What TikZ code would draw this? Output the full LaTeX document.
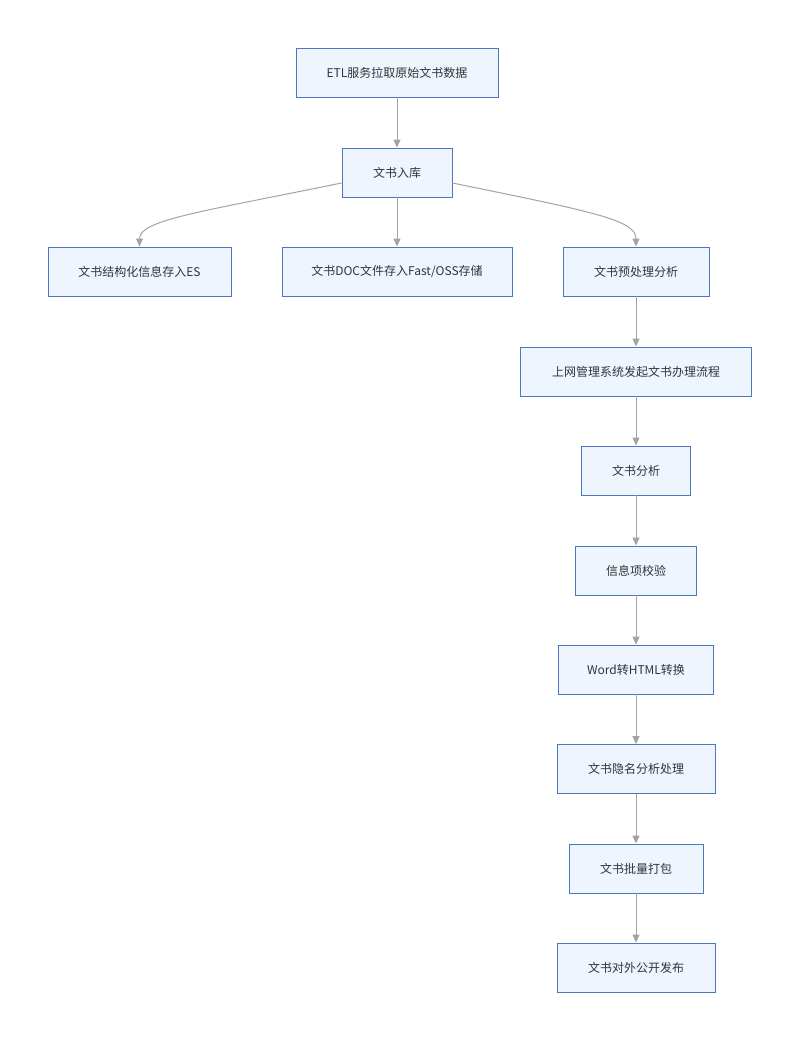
\documentclass[tikz,border=0pt]{standalone}
\usepackage{fontspec}
\setmainfont{Noto Sans CJK SC}
\usetikzlibrary{arrows.meta}
\definecolor{boxfill}{HTML}{EFF5FF}
\definecolor{boxdraw}{HTML}{4A78C0}
\definecolor{edgegray}{HTML}{A3A3A3}
\definecolor{txt}{HTML}{333333}
\begin{document}
\begin{tikzpicture}[x=1pt,y=-1pt,
  box/.style={draw=boxdraw,fill=boxfill,line width=0.9pt,minimum height=49pt,inner sep=0pt,
    font=\fontsize{12}{14}\selectfont,text=txt},
  edge/.style={draw=edgegray,line width=1pt,-{Triangle[width=7pt,length=8pt]}}]
\useasboundingbox (0,0) rectangle (800,1041);
\node[box,minimum width=202pt] (n1) at (397,72.5) {ETL服务拉取原始文书数据};
\node[box,minimum width=110pt] (n2) at (397,172.5) {文书入库};
\node[box,minimum width=183pt] (n3) at (139.5,271.5) {文书结构化信息存入ES};
\node[box,minimum width=230pt] (n4) at (397,271.5) {文书DOC文件存入Fast/OSS存储};
\node[box,minimum width=146pt] (n5) at (636,271.5) {文书预处理分析};
\node[box,minimum width=231pt] (n6) at (636,371.5) {上网管理系统发起文书办理流程};
\node[box,minimum width=109pt] (n7) at (636,470.5) {文书分析};
\node[box,minimum width=121pt] (n8) at (636,570.5) {信息项校验};
\node[box,minimum width=155pt] (n9) at (636,669.5) {Word转HTML转换};
\node[box,minimum width=158pt] (n10) at (636,769) {文书隐名分析处理};
\node[box,minimum width=134pt] (n11) at (636,868.5) {文书批量打包};
\node[box,minimum width=158pt] (n12) at (636,967.5) {文书对外公开发布};
\draw[edge] (n1) -- (n2);
\draw[edge] (n2.west |- 0,183) .. controls (200,212) and (139.5,220) .. (n3.north);
\draw[edge] (n2) -- (n4);
\draw[edge] (n2.east |- 0,183) .. controls (594,212) and (636,220) .. (n5.north);
\draw[edge] (n5) -- (n6);
\draw[edge] (n6) -- (n7);
\draw[edge] (n7) -- (n8);
\draw[edge] (n8) -- (n9);
\draw[edge] (n9) -- (n10);
\draw[edge] (n10) -- (n11);
\draw[edge] (n11) -- (n12);
\end{tikzpicture}
\end{document}
